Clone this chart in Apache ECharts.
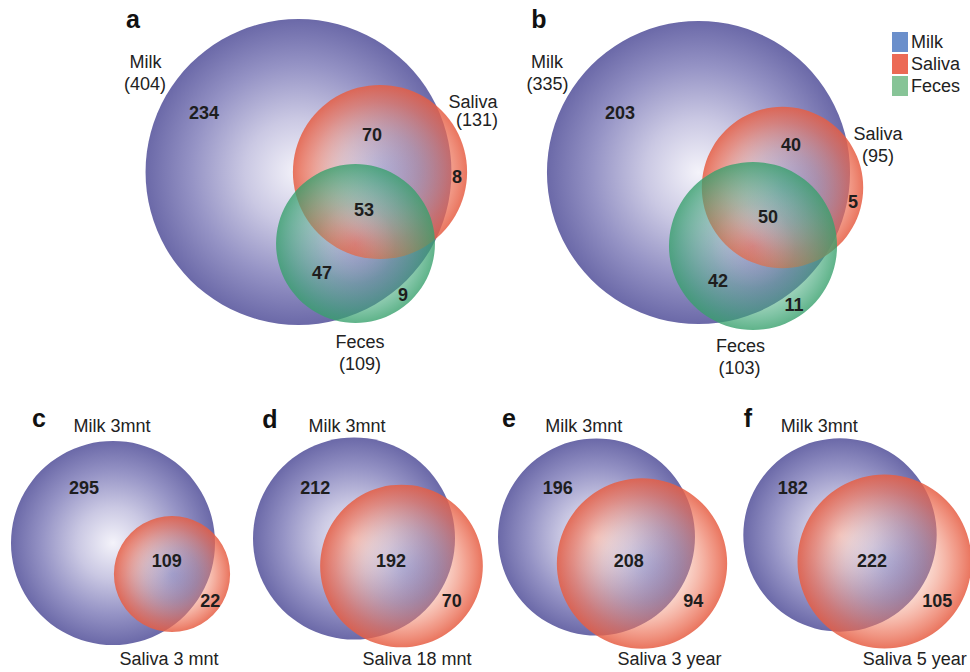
<!DOCTYPE html>
<html>
<head>
<meta charset="utf-8">
<script src="https://cdn.jsdelivr.net/npm/echarts@6/dist/echarts.min.js"></script>
<style>
html,body{margin:0;padding:0;background:#fff;}
#chart{width:970px;height:672px;}
</style>
</head>
<body>
<div id="chart"></div>
<script>
// ---------------- DATA ----------------
const panelLetters = ['a', 'b', 'c', 'd', 'e', 'f'];
const legendNames = ['Milk', 'Saliva', 'Feces'];
const tripleSets = ['Milk', 'Saliva', 'Feces'];
const tripleTotalsA = [404, 131, 109];
const tripleTotalsB = [335, 95, 103];
// regions: Milk only, Milk∩Saliva, Saliva only, all three, Milk∩Feces, Feces only
const tripleRegionsA = [234, 70, 8, 53, 47, 9];
const tripleRegionsB = [203, 40, 5, 50, 42, 11];
const pairMilkLabel = 'Milk 3mnt';
const pairSalivaLabels = ['Saliva 3 mnt', 'Saliva 18 mnt', 'Saliva 3 year', 'Saliva 5 year'];
const pairMilkOnly = [295, 212, 196, 182];
const pairShared = [109, 192, 208, 222];
const pairSalivaOnly = [22, 70, 94, 105];

// ---------------- LAYOUT (positions / sizes) ----------------
const tripleLayout = [
  { k: 7.61, centers: [[298.5, 172], [380, 172], [355.5, 243.5]],
    regionPos: [[204, 113], [372, 135], [457, 177], [364, 210], [322, 273], [403, 295]],
    namePos: [[145.5, 61.5], [473, 101.5], [360, 341.5]],
    countPos: [[145, 83.5], [477, 120], [360, 363.5]],
    letterPos: [133, 18.5] },
  { k: 8.28, centers: [[698.5, 172.5], [782.5, 187.5], [753, 246]],
    regionPos: [[620, 113], [791, 145], [853, 202], [768, 217], [718, 281], [794, 305]],
    namePos: [[547, 61.5], [878, 133.5], [740.5, 345.5]],
    countPos: [[547.5, 83.5], [878, 155.5], [739.5, 367.5]],
    letterPos: [539, 19] }
];
const pairLayout = [
  { k: 5.075, centers: [[113, 543], [172, 574]], regionPos: [[84, 488], [166.7, 561], [210.3, 601]],
    milkPos: [112, 425.5], salivaPos: [169, 658.5], letterPos: [39, 418] },
  { k: 5.025, centers: [[354, 538.5], [401.5, 566]], regionPos: [[315.3, 488], [391, 561], [451.7, 601]],
    milkPos: [347, 425.5], salivaPos: [417, 658.5], letterPos: [270, 418.8] },
  { k: 4.90, centers: [[596.5, 537], [642, 563.5]], regionPos: [[557.8, 488], [628.7, 561], [693.3, 601.3]],
    milkPos: [583.7, 426], salivaPos: [669.5, 658.5], letterPos: [509, 418.3] },
  { k: 4.81, centers: [[840, 535], [884.5, 561.5]], regionPos: [[792.7, 488], [872, 561], [937.3, 601.3]],
    milkPos: [819.3, 426], salivaPos: [914.7, 658.5], letterPos: [748, 418.3] }
];

// ---------------- STYLES ----------------
const FONT = "'Liberation Sans', Arial, Helvetica, sans-serif";
const legendColors = ['#6b8fcb', '#ec6a55', '#87c497'];
function milkGrad() {
  return new echarts.graphic.RadialGradient(0.5, 0.5, 0.5, [
    { offset: 0, color: '#f4f3fa' },
    { offset: 0.35, color: '#cac8e3' },
    { offset: 0.7, color: '#9593c5' },
    { offset: 1, color: '#6b69a8' }
  ]);
}
function salivaGrad() {
  return new echarts.graphic.RadialGradient(0.5, 0.5, 0.5, [
    { offset: 0, color: 'rgba(250,215,210,0.06)' },
    { offset: 0.45, color: 'rgba(242,160,135,0.32)' },
    { offset: 0.8, color: 'rgba(236,112,86,0.66)' },
    { offset: 1, color: 'rgba(230,94,68,0.86)' }
  ]);
}
function fecesGrad() {
  return new echarts.graphic.RadialGradient(0.5, 0.5, 0.5, [
    { offset: 0, color: 'rgba(200,225,210,0.05)' },
    { offset: 0.5, color: 'rgba(90,180,140,0.38)' },
    { offset: 0.85, color: 'rgba(62,165,118,0.66)' },
    { offset: 1, color: 'rgba(55,160,108,0.8)' }
  ]);
}
const gradFns = [milkGrad, salivaGrad, fecesGrad];

// ---------------- BUILD CIRCLE DATA ----------------
const circleData = [[], [], []]; // Milk, Saliva, Feces
[tripleTotalsA, tripleTotalsB].forEach((totals, p) => {
  const L = tripleLayout[p];
  totals.forEach((t, s) => {
    circleData[s].push([L.centers[s][0], L.centers[s][1], L.k * Math.sqrt(t)]);
  });
});
pairLayout.forEach((L, p) => {
  const milkTotal = pairMilkOnly[p] + pairShared[p];
  const salTotal = pairShared[p] + pairSalivaOnly[p];
  circleData[0].push([L.centers[0][0], L.centers[0][1], L.k * Math.sqrt(milkTotal)]);
  circleData[1].push([L.centers[1][0], L.centers[1][1], L.k * Math.sqrt(salTotal)]);
});

// ---------------- BUILD TEXT ITEMS ----------------
const texts = [];
function addText(pos, text, kind) { texts.push({ x: pos[0], y: pos[1], text: String(text), kind }); }
[[tripleTotalsA, tripleRegionsA], [tripleTotalsB, tripleRegionsB]].forEach(([totals, regions], p) => {
  const L = tripleLayout[p];
  addText(L.letterPos, panelLetters[p], 'letter');
  tripleSets.forEach((name, s) => {
    addText(L.namePos[s], name, 'label');
    addText(L.countPos[s], '(' + totals[s] + ')', 'label');
  });
  regions.forEach((v, r) => addText(L.regionPos[r], v, 'num'));
});
pairLayout.forEach((L, p) => {
  addText(L.letterPos, panelLetters[p + 2], 'letter');
  addText(L.milkPos, pairMilkLabel, 'label');
  addText(L.salivaPos, pairSalivaLabels[p], 'label');
  addText(L.regionPos[0], pairMilkOnly[p], 'num');
  addText(L.regionPos[1], pairShared[p], 'num');
  addText(L.regionPos[2], pairSalivaOnly[p], 'num');
});
const textStyles = {
  letter: { fontSize: 25, fontWeight: 'bold', fill: '#111' },
  label: { fontSize: 18, fontWeight: 'normal', fill: '#222' },
  num: { fontSize: 18, fontWeight: 'bold', fill: '#1e1e1e' }
};

// ---------------- CHART ----------------
const chart = echarts.init(document.getElementById('chart'), null, { renderer: 'svg', width: 970, height: 672 });

function circleSeries(idx) {
  return {
    name: legendNames[idx],
    type: 'custom',
    coordinateSystem: 'cartesian2d',
    itemStyle: { color: legendColors[idx] },
    data: circleData[idx],
    silent: true,
    z: 2 + idx,
    renderItem: function (params, api) {
      const c = api.coord([api.value(0), api.value(1)]);
      const r = api.size([api.value(2), 0])[0];
      return { type: 'circle', shape: { cx: c[0], cy: c[1], r: r }, style: { fill: gradFns[idx](), stroke: null } };
    }
  };
}

const option = {
  animation: false,
  backgroundColor: '#ffffff',
  grid: { left: 0, right: 0, top: 0, bottom: 0, containLabel: false },
  xAxis: { type: 'value', min: 0, max: 970, show: false },
  yAxis: { type: 'value', min: 0, max: 672, inverse: true, show: false },
  legend: {
    data: legendNames,
    orient: 'vertical',
    left: 887, top: 27,
    icon: 'rect',
    itemWidth: 16, itemHeight: 20, itemGap: 2,
    selectedMode: false,
    textStyle: { fontSize: 18, color: '#222', fontFamily: FONT, padding: [0, 0, 0, -2] }
  },
  series: [
    circleSeries(0), circleSeries(1), circleSeries(2),
    {
      name: 'labels',
      type: 'custom',
      coordinateSystem: 'cartesian2d',
      silent: true,
      z: 10,
      data: texts.map(t => [t.x, t.y]),
      renderItem: function (params, api) {
        const t = texts[params.dataIndex];
        const c = api.coord([api.value(0), api.value(1)]);
        const st = textStyles[t.kind];
        return {
          type: 'text',
          x: c[0], y: c[1],
          style: {
            text: t.text, align: 'center', verticalAlign: 'middle',
            fontSize: st.fontSize, fontWeight: st.fontWeight, fontFamily: FONT, fill: st.fill
          }
        };
      }
    }
  ]
};
chart.setOption(option);
</script>
</body>
</html>
